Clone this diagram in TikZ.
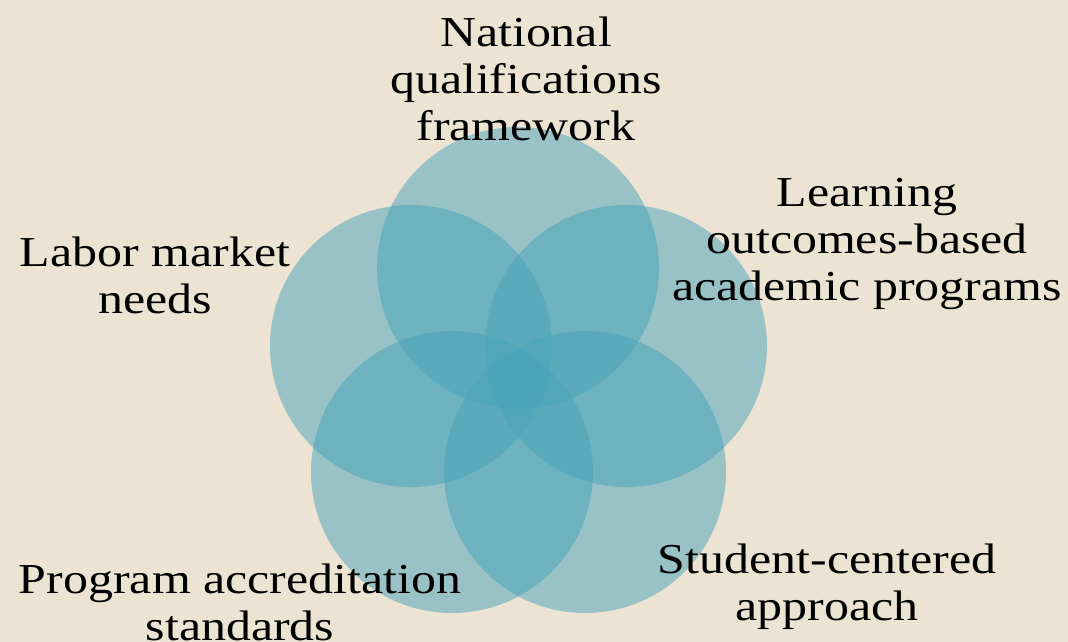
\documentclass[tikz,border=0pt]{standalone}
\usepackage{fontspec}
\setmainfont{Liberation Serif}[FakeStretch=1.17]
\definecolor{bgc}{RGB}{236,227,211}
\definecolor{tealc}{RGB}{72,164,186}
\begin{document}
\begin{tikzpicture}[x=0.75pt,y=-0.75pt,
  petal/.style={fill=tealc,fill opacity=0.51,draw=none},
  lbl/.style={align=center,text=black,font=\fontsize{32}{35.2}\selectfont,inner sep=0pt}]
\fill[bgc] (0,0) rectangle (1068,642);
\useasboundingbox (0,0) rectangle (1068,642);
\fill[petal] (518,268) circle[radius=141];
\fill[petal] (626,346) circle[radius=141];
\fill[petal] (585,472) circle[radius=141];
\fill[petal] (452,472) circle[radius=141];
\fill[petal] (411,346) circle[radius=141];
\node[lbl] (nqf) at (526,79) {National\\qualifications\\framework};
\node[lbl] (lob) at (867,244) {Learning\\outcomes-based\\academic programs};
\node[lbl] (sca) at (827,587) {Student-centered\\approach};
\node[lbl] (pas) at (240,602) {Program accreditation\\standards};
\node[lbl] (lmn) at (155,275) {Labor market\\needs};
\end{tikzpicture}
\end{document}
